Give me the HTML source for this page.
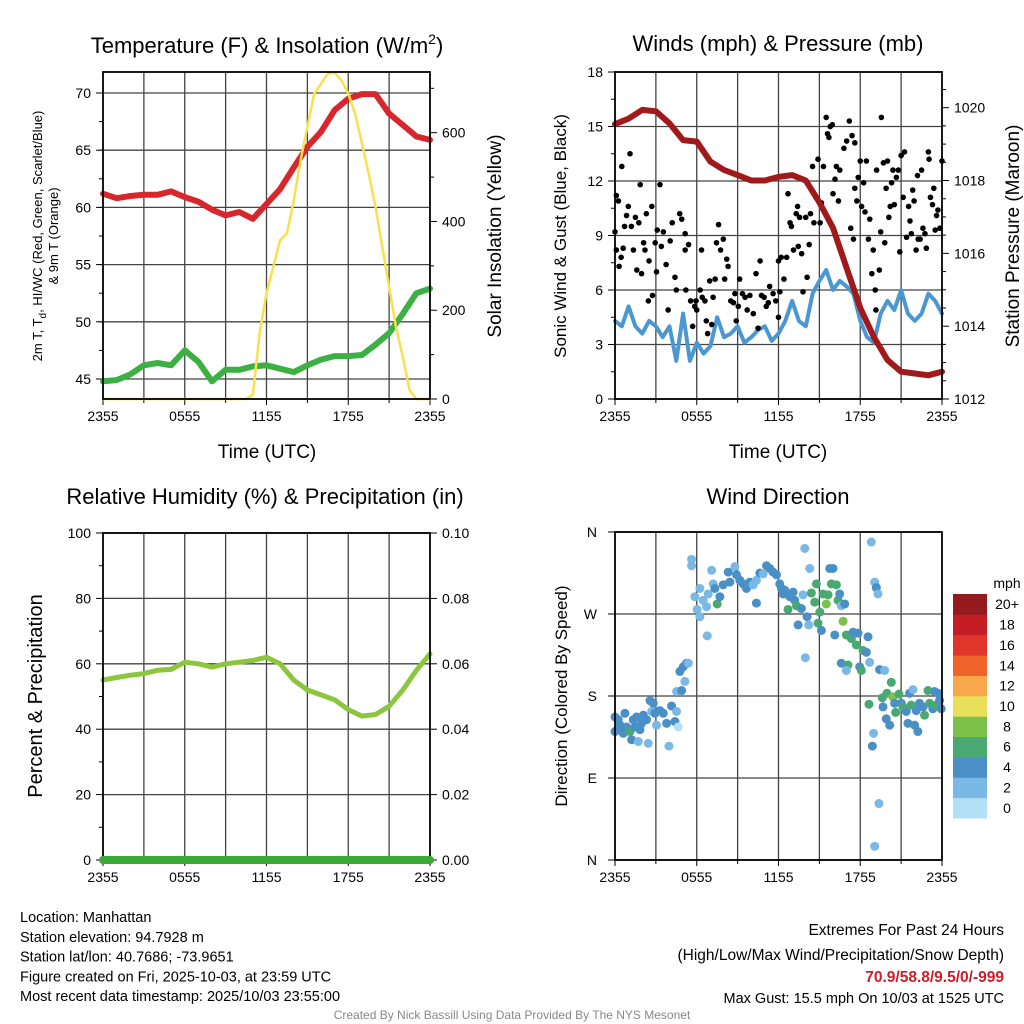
<!DOCTYPE html>
<html><head><meta charset="utf-8"><style>
body{margin:0;background:#fff}
svg{display:block;font-family:"Liberation Sans",Arial,sans-serif}
</style></head><body>
<svg id="fig" width="1024" height="1024" viewBox="0 0 1024 1024" xmlns="http://www.w3.org/2000/svg"></svg>
<script>
// ---------- DATA ----------
const hoursLabels = ["2355","0555","1155","1755","2355"];
const tempF = [61.2,60.8,61.0,61.1,61.1,61.4,60.9,60.5,59.8,59.3,59.6,59.0,60.3,61.6,63.5,65.3,66.6,68.5,69.5,69.9,69.9,68.2,67.2,66.2,65.9];
const dewF = [44.8,44.9,45.4,46.2,46.4,46.2,47.5,46.5,44.8,45.8,45.8,46.1,46.2,45.9,45.6,46.2,46.7,47.0,47.0,47.1,48.0,49.0,50.7,52.5,52.9];
const insolation = [0,0,0,0,0,0,0,0,0,0,0,0,0,0,0,0,0,0,0,0,0,0,10,150,238,298,358,373,448,538,613,688,710,733,735,718,688,643,576,508,433,343,253,163,95,20,0,0,0];
const pressure = [1019.55,1019.7,1019.94,1019.9,1019.57,1019.11,1019.07,1018.52,1018.29,1018.15,1018.0,1018.0,1018.1,1018.15,1018.0,1017.4,1016.7,1015.6,1014.5,1013.7,1013.07,1012.75,1012.7,1012.65,1012.75];
const windMph = [4.3,4.0,5.1,4.0,3.6,4.3,4.0,3.4,4.0,2.1,4.7,2.1,3.1,2.5,2.9,4.5,3.4,3.6,4.0,3.1,3.4,3.8,4.0,3.2,3.6,4.3,5.4,4.3,4.0,5.8,6.5,7.1,6.0,6.5,6.2,5.8,4.3,3.4,3.1,4.7,5.4,4.9,6.0,4.7,4.3,4.7,5.8,5.4,4.7];
const gustHour = [0,0.1,0.25,0.1,0.3,0.45,0.5,0.7,0.6,0.85,0.98,1.1,1.2,1.35,1.5,1.6,1.75,1.85,1.95,2.1,2.2,2.3,2.45,2.5,2.7,2.75,2.95,3.05,3.1,3.3,3.4,3.55,3.75,3.9,4.05,4.2,4.4,4.5,4.75,4.9,5.15,5.2,5.15,5.4,5.55,5.7,5.85,5.95,6.0,6.25,6.35,6.4,6.6,6.7,6.8,6.95,7.1,7.2,7.35,7.45,7.6,7.75,7.95,8.05,8.2,8.3,8.5,8.7,8.8,8.9,9.05,9.15,9.35,9.55,9.7,9.9,10.15,10.35,10.5,10.65,10.75,10.95,11.1,11.25,11.35,11.6,11.8,12.0,12.0,12.1,12.2,12.4,12.6,12.7,12.85,12.95,13.1,13.3,13.4,13.45,13.55,13.7,13.8,14.0,14.1,14.25,14.35,14.5,14.6,14.75,14.9,15.05,15.15,15.3,15.5,15.6,15.7,15.8,15.95,16.0,16.15,16.25,16.4,16.5,16.8,17.0,17.2,17.3,17.4,17.5,17.6,17.6,17.75,17.85,18.0,18.1,18.25,18.35,18.45,18.6,18.7,18.85,18.95,19.1,19.15,19.2,19.4,19.5,19.55,19.7,19.8,19.9,20.0,20.1,20.2,20.3,20.4,20.5,20.65,20.8,20.9,21.0,21.15,21.25,21.4,21.55,21.65,21.75,21.85,21.95,22.1,22.2,22.25,22.4,22.5,22.6,22.75,22.85,23.0,23.05,23.15,23.3,23.4,23.5,23.6,23.7,23.85,24.0];
const gustMph = [9.2,11.2,10.9,8.2,7.3,7.8,12.8,9.5,8.3,10.1,10.6,13.5,9.5,8.2,10.0,7.1,9.7,11.8,6.9,8.6,8.2,10.2,5.4,7.6,10.6,5.7,8.6,7.0,9.3,11.8,8.4,9.2,7.4,4.9,8.7,9.7,6.7,6.0,10.2,9.9,9.1,6.0,8.2,8.5,5.4,4.0,5.1,5.4,4.9,6.0,8.2,5.6,5.4,4.3,3.6,6.5,4.1,5.6,6.6,8.6,9.6,8.2,8.8,6.6,7.7,7.3,5.4,5.3,5.8,4.3,5.1,6.6,5.8,5.6,4.9,5.7,4.7,6.9,3.9,7.6,5.7,5.6,5.1,5.3,6.2,5.8,5.4,7.6,4.5,5.9,7.8,6.6,7.8,11.3,9.7,9.5,8.2,10.2,10.6,8.4,10.0,8.0,5.9,10.0,6.7,8.5,10.2,12.8,9.7,11.1,13.2,9.7,10.8,12.8,15.5,14.6,14.4,15.0,15.1,11.3,12.1,12.8,10.9,12.6,13.8,14.2,15.3,9.4,14.5,8.8,14.1,11.6,10.9,12.2,13.1,10.6,11.9,10.3,13.1,8.8,9.9,6.9,8.2,6.0,4.9,12.6,7.1,9.2,15.5,13.0,8.6,11.6,13.1,10.0,10.6,11.9,12.6,10.7,12.2,12.6,8.1,13.4,11.1,13.6,8.9,10.6,9.8,9.1,11.5,10.9,8.2,12.3,8.8,8.8,12.6,9.4,9.1,8.3,13.6,13.2,11.1,10.7,11.6,9.3,10.1,10.4,9.4,13.1];
const rhPct = [55,55.8,56.5,57,58,58.3,60.5,60,59,60,60.5,61,62,60,55,52,50.5,49,46,44,44.5,47,52,58,63];
const precipIn = [0,0,0,0,0,0,0,0,0,0,0,0,0,0,0,0,0,0,0,0,0,0,0,0,0];
const dirHour = [0,0,0.24,0.37,0.49,0.61,0.73,0.86,1.1,1.22,1.34,1.47,1.59,1.71,1.83,1.95,2.08,2.32,2.44,2.57,2.69,2.81,2.93,3.05,3.3,3.54,3.79,3.96,4.15,4.4,4.52,4.64,4.52,4.89,5.13,4.76,5.01,5.25,5.38,5.62,5.62,5.86,6.03,6.23,6.23,6.47,6.72,6.77,6.84,7.09,7.21,7.33,7.5,7.7,7.94,8.31,8.43,8.8,8.92,9.16,9.41,9.65,9.89,10.14,10.38,10.38,10.63,10.87,11.12,11.36,11.6,11.85,12.09,12.22,12.34,12.46,12.7,12.83,13.07,13.19,13.32,13.44,13.68,13.8,13.93,13.97,14.1,14.22,14.29,14.41,14.66,14.78,14.9,15.03,15.15,15.27,15.51,15.64,15.76,15.88,16.0,16.13,16.25,16.37,16.49,16.61,16.74,16.86,16.61,16.98,17.1,16.98,17.35,17.47,17.71,17.84,17.96,18.08,18.2,18.45,18.57,18.69,18.64,18.81,18.98,18.89,19.06,19.18,19.3,19.37,19.06,19.42,19.79,19.62,19.67,19.91,19.96,20.16,20.28,20.4,20.52,20.6,20.84,21.01,21.13,21.38,21.5,21.62,21.74,21.87,21.99,22.11,22.23,22.35,22.6,22.72,22.97,23.09,23.33,23.45,23.58,23.7,23.82,23.94];
const dirDeg = [157,141,154,148,143,139,161,146,141,132,154,146,157,130,143,150,159,154,128,175,163,172,161,148,164,161,150,125,169,152,163,146,185,186,196,207,212,216,216,330,323,289,275,267,298,285,278,246,292,318,303,298,281,289,302,316,305,322,313,307,303,298,305,302,307,282,315,314,323,320,316,313,303,298,292,296,275,289,294,285,279,258,276,291,342,222,267,258,320,293,283,303,260,272,252,292,281,291,320,303,320,247,302,285,292,279,262,281,216,247,214,208,243,250,236,249,212,208,230,228,245,217,171,349,139,125,305,299,292,62,15,209,208,178,168,155,183,148,195,179,172,162,182,172,168,163,150,183,170,187,148,164,141,172,168,159,186,172,166,185,170,183,175,166];
const dirSpeed = [5,5,5,5,5,5,5,5,7,5,5,5,5,3,5,5,5,5,3,5,3,5,5,3,5,5,5,3,5,5,3,1,3,5,3,5,5,5,3,3,3,3,3,3,3,3,3,3,3,3,3,5,7,5,5,5,5,3,5,5,5,5,5,3,3,5,5,3,5,5,5,5,5,5,5,5,7,5,5,5,7,5,5,3,3,3,5,3,3,7,7,7,7,7,5,7,9,7,5,7,5,5,7,7,5,3,9,5,5,7,7,3,7,5,7,5,5,7,7,5,5,3,7,3,3,5,3,5,3,3,3,5,3,7,5,5,7,5,7,9,5,7,7,5,7,5,5,5,7,3,5,5,5,5,5,7,7,7,5,5,7,5,5,5,7,5,5,5,5];
const speedBins = ["0","2","4","6","8","10","12","14","16","18","20+"];
const binColors = ["#b3e0f6","#7ab8e5","#4a8fc6","#4aa872","#7cc14a","#e8e05a","#f8a84a","#f0642c","#e0352b","#c41e24","#931a1d"];

// ---------- HELPERS ----------
const NS="http://www.w3.org/2000/svg";
const svg=document.getElementById('fig');
function mk(tag,attrs,parent){const e=document.createElementNS(NS,tag);for(const k in attrs)e.setAttribute(k,attrs[k]);(parent||svg).appendChild(e);return e;}
function txt(s,x,y,size,anchor,parent,extra){const t=mk('text',Object.assign({x:x,y:y,'font-size':size,'text-anchor':anchor||'middle',fill:'#000'},extra||{}),parent);t.textContent=s;return t;}
function lin(d0,d1,r0,r1){return v=>r0+(v-d0)*(r1-r0)/(d1-d0);}
function panel(name,x0,x1,y0,y1){
  const g=mk('g',{});
  
  
  const X=lin(0,24,x0,x1);
  for(let h=3;h<24;h+=3){const l=mk('line',{x1:X(h),x2:X(h),y1:y0,y2:y1,stroke:'#444','stroke-width':1.3},g);
    }
  for(let h=0;h<=24;h+=3){mk('line',{x1:X(h),x2:X(h),y1:y1,y2:y1+(h%6==0?6:4),stroke:'#000','stroke-width':1},g);}
  hoursLabels.forEach((s,i)=>{const t=txt(s,X(i*6),y1+22,14,'middle',g);
    });
  return {g,X};
}
function hgrid(g,x0,x1,y){mk('line',{x1:x0,x2:x1,y1:y,y2:y,stroke:'#444','stroke-width':1.3},g);}
function frame(g,x0,x1,y0,y1){const r=mk('rect',{x:x0,y:y0,width:x1-x0,height:y1-y0,fill:'none',stroke:'#000','stroke-width':1.8},g);
  }
function path(g,xs,ys,color,w,name){let d='';xs.forEach((x,i)=>{d+=(i?'L':'M')+x.toFixed(1)+' '+ys[i].toFixed(1);});
  const p=mk('path',{d:d,fill:'none',stroke:color,'stroke-width':w,'stroke-linejoin':'round','stroke-linecap':'round'},g);
  return p;}
function ylabel(s,x,y,size,g,name){const t=txt(s,x,y,size,'middle',g,{transform:`rotate(-90 ${x} ${y})`});
  return t;}

// ---------- PANEL 1 ----------
(function(){
 const x0=103,x1=430,y0=72,y1=399;
 const {g,X}=panel('temperature-panel',x0,x1,y0,y1);
 const Y=lin(45,70,379,93), YR=lin(0,600,399,132.7);
 for(let v=45;v<=70;v+=5){hgrid(g,x0,x1,Y(v));mk('line',{x1:x0-7,x2:x0,y1:Y(v),y2:Y(v),stroke:'#000'},g);
   const t=txt(String(v),x0-12,Y(v)+5,14,'end',g);}
 for(let v=42.5;v<=72;v+=2.5){if(Y(v)>=y0&&Y(v)<=y1)mk('line',{x1:x0-4,x2:x0,y1:Y(v),y2:Y(v),stroke:'#000'},g);}
 for(let v=0;v<=600;v+=200){mk('line',{x1:x1,x2:x1+7,y1:YR(v),y2:YR(v),stroke:'#000'},g);
   const t=txt(String(v),x1+12,YR(v)+5,14,'start',g);}
 for(let v=100;v<=700;v+=200)mk('line',{x1:x1,x2:x1+4,y1:YR(v),y2:YR(v),stroke:'#000'},g);
 path(g,tempF.map((v,i)=>X(i)),tempF.map(Y),'#d7262c',6,'temperature-line');
 path(g,dewF.map((v,i)=>X(i)),dewF.map(Y),'#3cb043',6,'dewpoint-line');
 path(g,insolation.map((v,i)=>X(i/2)),insolation.map(YR),'#f8e04e',2.5,'insolation-line');
 frame(g,x0,x1,y0,y1);
 const tt=mk('text',{x:267,y:53,'font-size':22,'text-anchor':'middle'},g);
 
 tt.innerHTML='Temperature (F) &amp; Insolation (W/m<tspan dy="-9" font-size="14">2</tspan><tspan dy="9">)</tspan>';
 const xl=txt('Time (UTC)',267,458,19,'middle',g);
 const yl=mk('text',{x:42,y:236,'font-size':13,'text-anchor':'middle',transform:'rotate(-90 42 236)'},g);
 
 yl.innerHTML='2m T, T<tspan dy="4" font-size="10">d</tspan><tspan dy="-4">, HI/WC (Red, Green, Scarlet/Blue)</tspan>';
 ylabel('& 9m T (Orange)',58,236,13,g,'y-axis-title-line2');
 ylabel('Solar Insolation (Yellow)',501,236,19,g,'right-axis-title');
})();

// ---------- PANEL 2 ----------
(function(){
 const x0=615,x1=942,y0=72,y1=399;
 const {g,X}=panel('winds-panel',x0,x1,y0,y1);
 const Y=lin(0,18,399,72), YP=lin(1012,1020,399,107.7);
 for(let v=0;v<=18;v+=3){hgrid(g,x0,x1,Y(v));mk('line',{x1:x0-7,x2:x0,y1:Y(v),y2:Y(v),stroke:'#000'},g);
   const t=txt(String(v),x0-12,Y(v)+5,14,'end',g);}
 for(let v=1.5;v<18;v+=3)mk('line',{x1:x0-4,x2:x0,y1:Y(v),y2:Y(v),stroke:'#000'},g);
 for(let v=1012;v<=1020;v+=2){mk('line',{x1:x1,x2:x1+7,y1:YP(v),y2:YP(v),stroke:'#000'},g);
   const t=txt(String(v),x1+12,YP(v)+5,14,'start',g);}
 for(let v=1012.5;v<1021;v+=0.5){if(v%2)mk('line',{x1:x1,x2:x1+4,y1:YP(v),y2:YP(v),stroke:'#000'},g);}
 path(g,windMph.map((v,i)=>X(i/2)),windMph.map(Y),'#4b97d2',4,'wind-speed-line');
 gustMph.forEach((v,i)=>{const c=mk('circle',{cx:X(gustHour[i]),cy:Y(v),r:2.8,fill:'#000'},g);
   });
 path(g,pressure.map((v,i)=>X(i)),pressure.map(YP),'#a01a1c',6,'pressure-line');
 frame(g,x0,x1,y0,y1);
 const tt=txt('Winds (mph) & Pressure (mb)',778,51,22,'middle',g);
 const xl=txt('Time (UTC)',778,458,19,'middle',g);
 ylabel('Sonic Wind & Gust (Blue, Black)',566,236,17,g,'y-axis-title');
 ylabel('Station Pressure (Maroon)',1019,236,19,g,'right-axis-title');
})();

// ---------- PANEL 3 ----------
(function(){
 const x0=103,x1=430,y0=533,y1=860;
 const {g,X}=panel('humidity-panel',x0,x1,y0,y1);
 const Y=lin(0,100,860,533), YR=lin(0,0.1,860,533);
 for(let v=0;v<=100;v+=20){hgrid(g,x0,x1,Y(v));mk('line',{x1:x0-7,x2:x0,y1:Y(v),y2:Y(v),stroke:'#000'},g);
   const t=txt(String(v),x0-12,Y(v)+5,14,'end',g);}
 for(let v=10;v<100;v+=20)mk('line',{x1:x0-4,x2:x0,y1:Y(v),y2:Y(v),stroke:'#000'},g);
 for(let v=0;v<=10;v+=2){mk('line',{x1:x1,x2:x1+7,y1:YR(v/100),y2:YR(v/100),stroke:'#000'},g);
   const t=txt((v/100).toFixed(2),x1+12,YR(v/100)+5,14,'start',g);}
 path(g,rhPct.map((v,i)=>X(i)),rhPct.map(Y),'#8cc63f',5,'humidity-line');
 frame(g,x0,x1,y0,y1);
 path(g,precipIn.map((v,i)=>X(i)),precipIn.map(YR),'#3aa935',8,'precipitation-line');
 const tt=txt('Relative Humidity (%) & Precipitation (in)',265,504,22,'middle',g);
 ylabel('Percent & Precipitation',42,696,20,g,'y-axis-title');
})();

// ---------- PANEL 4 ----------
(function(){
 const x0=615,x1=942,y0=532,y1=860;
 const {g,X}=panel('wind-direction-panel',x0,x1,y0,y1);
 const Y=lin(0,360,860,532);
 ['N','E','S','W','N'].forEach((s,i)=>{const v=i*90;hgrid(g,x0,x1,Y(v));mk('line',{x1:x0-7,x2:x0,y1:Y(v),y2:Y(v),stroke:'#000'},g);
   const t=txt(s,x0-18,Y(v)+5,14,'end',g);});
 dirDeg.forEach((d,i)=>{const bi=Math.min(10,Math.floor(dirSpeed[i]/2));
   const c=mk('circle',{cx:X(dirHour[i]),cy:Y(d),r:4.5,fill:binColors[bi]},g);
   });
 frame(g,x0,x1,y0,y1);
 const tt=txt('Wind Direction',778,504,22,'middle',g);
 ylabel('Direction (Colored By Speed)',567,696,17,g,'y-axis-title');
 const lg=mk('g',{},g);
 const t0=txt('mph',1007,588,14,'middle',lg);
 const bh=(818-594)/11;
 speedBins.forEach((s,i)=>{const top=818-(i+1)*bh;
   const r=mk('rect',{x:953,y:top,width:34,height:bh+0.5,fill:binColors[i]},lg);
   
   const t=txt(s,1007,top+bh/2+5,14,'middle',lg);});
})();

// ---------- FOOTER ----------
(function(){
 const g=mk('g',{});
 ['Location: Manhattan','Station elevation: 94.7928 m','Station lat/lon: 40.7686; -73.9651','Figure created on Fri, 2025-10-03, at 23:59 UTC','Most recent data timestamp: 2025/10/03 23:55:00'].forEach((s,i)=>{
   const t=txt(s,20,922+i*19.8,14.5,'start',g);});
 let t=txt('Extremes For Past 24 Hours',1004,935,15.5,'end',g);
 t=txt('(High/Low/Max Wind/Precipitation/Snow Depth)',1004,960,15.5,'end',g);
 t=txt('70.9/58.8/9.5/0/-999',1004,982,15.5,'end',g,{fill:'#c8202a','font-weight':'bold'});
 t=txt('Max Gust: 15.5 mph On 10/03 at 1525 UTC',1004,1003,14.5,'end',g);
 t=txt('Created By Nick Bassill Using Data Provided By The NYS Mesonet',512,1019,12,'middle',g,{fill:'#888'});
})();
</script>
</body></html>
